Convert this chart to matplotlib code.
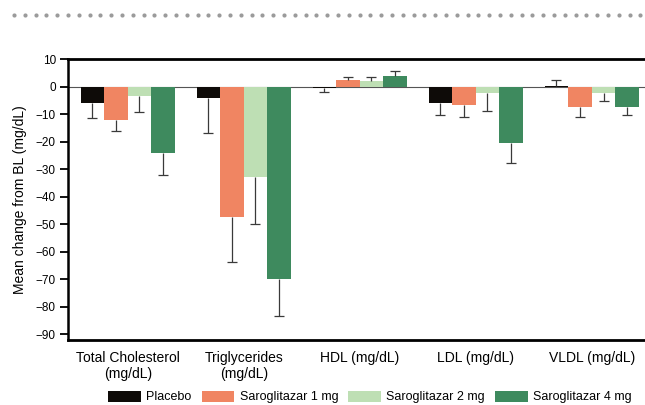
import numpy as np
import matplotlib
matplotlib.use("Agg")
import matplotlib.pyplot as plt
from matplotlib.lines import Line2D
from matplotlib.patches import Patch

plt.rcParams["font.family"] = ["Liberation Sans", "DejaVu Sans"]

# mean change from baseline (mg/dL) and error bar length, per lipid parameter
categories = ["Total Cholesterol\n(mg/dL)", "Triglycerides\n(mg/dL)", "HDL (mg/dL)",
              "LDL (mg/dL)", "VLDL (mg/dL)"]
groups = ["Placebo", "Saroglitazar 1 mg", "Saroglitazar 2 mg", "Saroglitazar 4 mg"]

placebo = [-6.0, -4.2, -0.5, -6.0, 0.3]
saro_1mg = [-12.2, -47.5, 2.3, -6.8, -7.5]
saro_2mg = [-3.3, -33.0, 2.0, -2.5, -2.4]
saro_4mg = [-24.2, -70.0, 3.9, -20.4, -7.5]

placebo_err = [5.5, 12.8, 1.4, 4.3, 2.2]
saro_1mg_err = [3.8, 16.1, 1.0, 4.3, 3.5]
saro_2mg_err = [5.8, 16.9, 1.4, 6.2, 2.8]
saro_4mg_err = [7.9, 13.4, 1.9, 7.5, 2.7]

colors = ["#0e0b08", "#f08562", "#bedfb4", "#3e8a5e"]

fig = plt.figure(figsize=(6.45, 4.05), dpi=100)
ax = fig.add_axes([0.1059, 0.1605, 0.8941, 0.6938])

x = np.arange(len(categories))
w = 0.2026
series = [(placebo, placebo_err), (saro_1mg, saro_1mg_err),
          (saro_2mg, saro_2mg_err), (saro_4mg, saro_4mg_err)]

ax.axhline(0, color="#555555", lw=0.8, zorder=1)

for i, (vals, errs) in enumerate(series):
    vals = np.array(vals)
    errs = np.array(errs)
    pos = x + (i - 1.5) * w
    ax.bar(pos, vals, width=w, color=colors[i], zorder=2)
    # one-sided error bars pointing away from zero, cap only at the far end
    ends = np.where(vals < 0, vals - errs, vals + errs)
    ax.vlines(pos, vals, ends, color="#3a3a3a", lw=0.9, zorder=3)
    ax.plot(pos, ends, linestyle="none", marker="_", markersize=7.2,
            markeredgewidth=0.9, color="#3a3a3a", zorder=3)

ax.set_xlim(-0.512, 4.459)
ax.set_ylim(-92, 10)
ax.set_yticks(np.arange(-90, 11, 10))
ax.set_yticklabels([str(v).replace("-", "\u2212") for v in range(-90, 11, 10)])
ax.set_xticks(x)
ax.set_xticklabels(categories, fontsize=10)
ax.tick_params(axis="x", length=0, pad=8)
ax.tick_params(axis="y", length=6, width=1.3, pad=3, labelsize=8.5)

ax.spines["right"].set_visible(False)
ax.spines["left"].set_linewidth(1.8)
ax.spines["top"].set_linewidth(2.0)
ax.spines["bottom"].set_linewidth(2.0)

ax.set_ylabel("Mean change from BL (mg/dL)", fontsize=10)
ax.yaxis.set_label_coords(-0.072, 0.5)

handles = [Patch(facecolor=c, edgecolor="none") for c in colors]
fig.legend(handles, groups, ncol=4, loc="center", bbox_to_anchor=(370 / 645, 0.0198),
           frameon=False, fontsize=9, handlelength=2.6, handleheight=1.0,
           handletextpad=0.45, columnspacing=0.8, borderaxespad=0, borderpad=0)

# dotted rule across the top
dots_x = np.arange(14, 645, 10.8) / 645
fig.add_artist(Line2D(dots_x, np.full(len(dots_x), 1 - 15 / 405), transform=fig.transFigure,
                      linestyle="none", marker="o", markersize=3.0,
                      markerfacecolor="#9b9b9b", markeredgecolor="none"))

fig.savefig("out.png", dpi=100)
